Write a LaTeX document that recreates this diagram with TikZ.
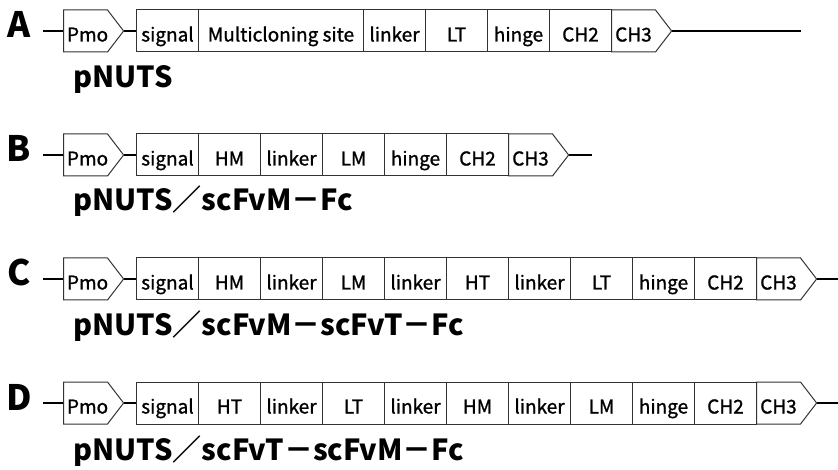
\documentclass[tikz,border=0pt]{standalone}
\usepackage{fontspec}
\newfontfamily\jpfont{Noto Sans CJK JP}
\newfontfamily\cellfont{Noto Sans CJK JP}[FakeBold=1.2]
\usetikzlibrary{shapes.symbols, positioning}

\begin{document}
\begin{tikzpicture}[
  x=1pt, y=-1pt,
  cell/.style={draw=black!80, line width=1pt, minimum width=62, minimum height=42,
    inner sep=0pt, text height=24, text depth=3, font=\cellfont\fontsize{19}{19}\selectfont, anchor=west},
  tip/.style={cell, shape=signal, signal to=east, signal from=nowhere, signal pointer angle=105,
    minimum width=0, text width=37, align=center, inner xsep=3.5},
  tag/.style={font=\jpfont\bfseries\fontsize{35}{35}\selectfont, anchor=base, inner sep=0pt},
  plasmid/.style={font=\jpfont\bfseries\fontsize{29}{29}\selectfont, anchor=base west, inner sep=0pt},
  wire/.style={line width=1.4pt}
]
  \useasboundingbox (0,0) rectangle (838,470);

  % Row A
  \node[tag] (atag) at (19, 38) {A};
  \coordinate (ain) at (43, 31);
  \node[tip] (apmo) at (63, 31) {Pmo};
  \node[cell] (a1) at (136, 31) {signal};
  \node[cell, minimum width=165] (a2) at (198, 31) {Multicloning site};
  \node[cell] (a3) at (363, 31) {linker};
  \node[cell] (a4) at (425, 31) {LT};
  \node[cell] (a5) at (487, 31) {hinge};
  \node[cell] (a6) at (549, 31) {CH2};
  \node[tip] (a7) at (611, 31) {CH3};
  \coordinate (aout) at (801, 31);
  \draw[wire] (ain) -- (apmo.west);
  \draw[wire] (apmo.east) -- (a1.west);
  \draw[wire] (a7.east) -- (aout);
  \node[plasmid] (aname) at (73, 88) {pNUTS};

  % Row B
  \node[tag] (btag) at (19, 162) {B};
  \coordinate (bin) at (43, 155);
  \node[tip] (bpmo) at (63, 155) {Pmo};
  \node[cell] (b1) at (136, 155) {signal};
  \node[cell] (b2) at (198, 155) {HM};
  \node[cell] (b3) at (260, 155) {linker};
  \node[cell] (b4) at (322, 155) {LM};
  \node[cell] (b5) at (384, 155) {hinge};
  \node[cell] (b6) at (446, 155) {CH2};
  \node[tip] (b7) at (508, 155) {CH3};
  \coordinate (bout) at (592, 155);
  \draw[wire] (bin) -- (bpmo.west);
  \draw[wire] (bpmo.east) -- (b1.west);
  \draw[wire] (b7.east) -- (bout);
  \node[plasmid] (bname) at (73, 211) {pNUTS／scFvM－Fc};

  % Row C
  \node[tag] (ctag) at (19, 286) {C};
  \coordinate (cin) at (43, 279);
  \node[tip] (cpmo) at (63, 279) {Pmo};
  \node[cell] (c1) at (136, 279) {signal};
  \node[cell] (c2) at (198, 279) {HM};
  \node[cell] (c3) at (260, 279) {linker};
  \node[cell] (c4) at (322, 279) {LM};
  \node[cell] (c5) at (384, 279) {linker};
  \node[cell] (c6) at (446, 279) {HT};
  \node[cell] (c7) at (508, 279) {linker};
  \node[cell] (c8) at (570, 279) {LT};
  \node[cell] (c9) at (632, 279) {hinge};
  \node[cell] (c10) at (694, 279) {CH2};
  \node[tip] (c11) at (756, 279) {CH3};
  \coordinate (cout) at (838, 279);
  \draw[wire] (cin) -- (cpmo.west);
  \draw[wire] (cpmo.east) -- (c1.west);
  \draw[wire] (c11.east) -- (cout);
  \node[plasmid] (cname) at (73, 335) {pNUTS／scFvM－scFvT－Fc};

  % Row D
  \node[tag] (dtag) at (19, 410) {D};
  \coordinate (din) at (43, 403);
  \node[tip] (dpmo) at (63, 403) {Pmo};
  \node[cell] (d1) at (136, 403) {signal};
  \node[cell] (d2) at (198, 403) {HT};
  \node[cell] (d3) at (260, 403) {linker};
  \node[cell] (d4) at (322, 403) {LT};
  \node[cell] (d5) at (384, 403) {linker};
  \node[cell] (d6) at (446, 403) {HM};
  \node[cell] (d7) at (508, 403) {linker};
  \node[cell] (d8) at (570, 403) {LM};
  \node[cell] (d9) at (632, 403) {hinge};
  \node[cell] (d10) at (694, 403) {CH2};
  \node[tip] (d11) at (756, 403) {CH3};
  \coordinate (dout) at (838, 403);
  \draw[wire] (din) -- (dpmo.west);
  \draw[wire] (dpmo.east) -- (d1.west);
  \draw[wire] (d11.east) -- (dout);
  \node[plasmid] (dname) at (73, 460) {pNUTS／scFvT－scFvM－Fc};
\end{tikzpicture}
\end{document}
